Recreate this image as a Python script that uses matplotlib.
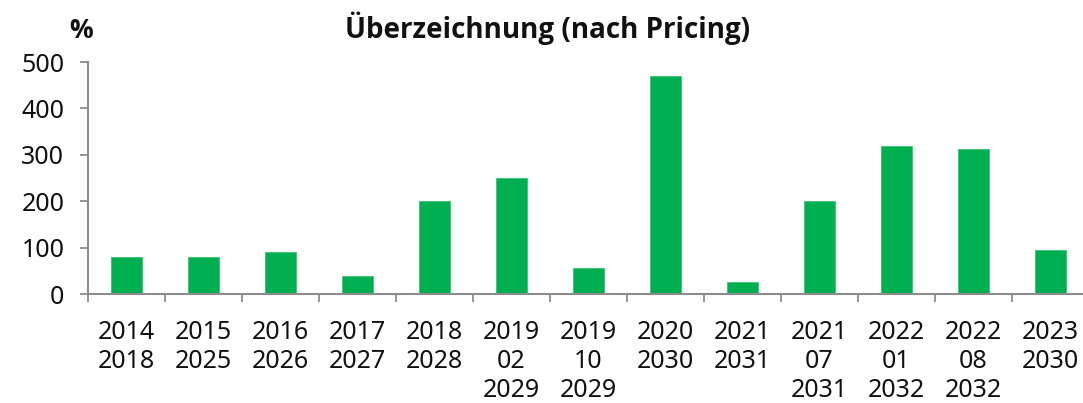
import matplotlib
matplotlib.use("Agg")
import matplotlib.pyplot as plt
import numpy as np

categories = ["2014\n2018", "2015\n2025", "2016\n2026", "2017\n2027", "2018\n2028",
              "2019\n02\n2029", "2019\n10\n2029", "2020\n2030", "2021\n2031",
              "2021\n07\n2031", "2022\n01\n2032", "2022\n08\n2032", "2023\n2030"]
values = [79, 79, 90, 39, 200, 250, 57, 470, 25, 200, 320, 312, 94]
yticks = [0, 100, 200, 300, 400, 500]

plt.rcParams['font.family'] = ['Noto Sans', 'DejaVu Sans']

fig = plt.figure(figsize=(10.83, 4.03), dpi=100)
ax = fig.add_axes([88/1083, 109/403, (1089-88)/1083, 232/403])

x = np.arange(len(categories))
ax.bar(x, values, width=0.4, color="#00B050", edgecolor="#3CC374", linewidth=0.6, zorder=2)

ax.set_xlim(-0.5, len(categories) - 0.5)
ax.set_ylim(0, 500)

gray = "#8C8C8C"
for s in ["top", "right"]:
    ax.spines[s].set_visible(False)
for s in ["left", "bottom"]:
    ax.spines[s].set_color(gray)
    ax.spines[s].set_linewidth(1.5)

ax.set_yticks(yticks)
ax.set_yticklabels([str(v) for v in yticks])
ax.tick_params(axis="y", direction="out", length=6, width=1.3, color=gray,
               labelsize=18, pad=11, labelcolor="#111111")

ax.set_xticks(np.arange(len(categories) + 1) - 0.5)
ax.set_xticklabels([])
ax.tick_params(axis="x", which="major", direction="out", length=6, width=1.3, color=gray)
ax.set_xticks(x, minor=True)
ax.set_xticklabels(categories, minor=True, fontsize=18, linespacing=1.2, color="#111111",
                   va="top")
ax.tick_params(axis="x", which="minor", length=0, pad=19)

bold_family = ['Open Sans', 'Lato', 'DejaVu Sans']
fig.text(548/1083, 1 - 28/403, "Überzeichnung (nach Pricing)", ha="center", va="center",
         fontsize=20, fontweight="bold", color="#111111", family=bold_family)
fig.text(81/1083, 1 - 30/403, "%", ha="center", va="center",
         fontsize=19, fontweight="bold", color="#111111", family=bold_family)

fig.savefig("out.png", dpi=100)
